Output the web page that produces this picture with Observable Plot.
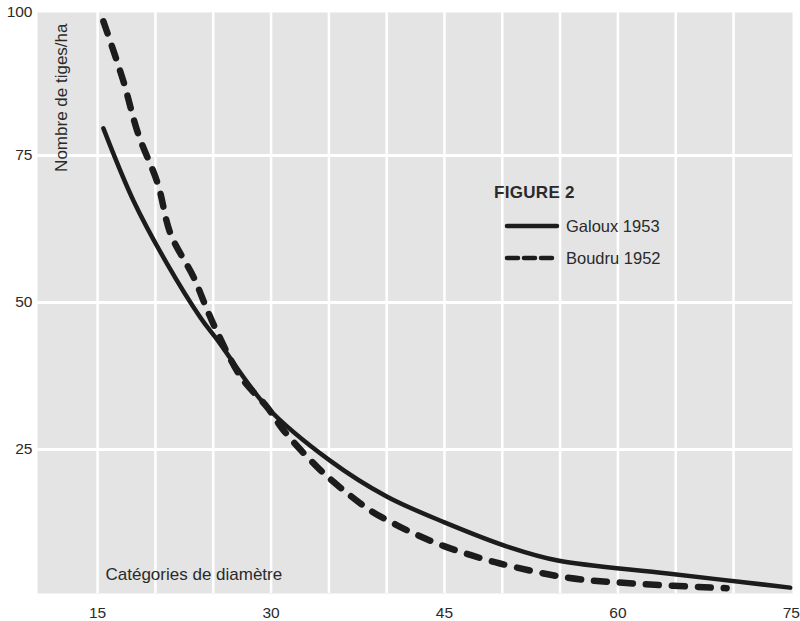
<!DOCTYPE html>
<html>
<head>
<meta charset="utf-8">
<script src="https://cdn.jsdelivr.net/npm/d3@7"></script>
<script src="https://cdn.jsdelivr.net/npm/@observablehq/plot@0.6"></script>
<style>
  html, body { margin: 0; padding: 0; background: #fff; }
  #wrap { position: relative; width: 800px; height: 621px; font-family: "Liberation Sans", Arial, sans-serif; color: #2a2a2a; }
  #legend { position: absolute; left: 494px; top: 182px; font-size: 16.5px; }
  #legend .title { font-weight: bold; font-size: 17px; letter-spacing: 0.3px; height: 22px; line-height: 22px; margin-bottom: 6px; }
  #legend .row { display: flex; align-items: center; height: 32px; }
  #legend svg { margin-left: 10px; margin-right: 6px; }
</style>
</head>
<body>
<div id="wrap"></div>
<script>
// Diameter categories (x) and stems per ha (y)
const galouxX = [15.5, 18.1, 21.0, 23.9, 25.4, 29.7, 35.1, 40.0, 45.0, 50.7, 54.8, 64.3, 74.9];
const galouxY = [79.6, 67.3, 56.6, 47.4, 43.5, 32.1, 23.1, 17.0, 12.6, 8.3, 6.1, 3.9, 1.5];
const boudruX = [15.5, 17.2, 18.5, 20.2, 21.3, 23.3, 24.5, 25.4, 27.4, 29.7, 31.1, 34.0, 36.0, 38.6, 40.9, 42.7, 44.9, 47.0, 49.8, 55.6, 61.3, 69.4];
const boudruY = [97.8, 87.8, 78.7, 70.2, 61.7, 54.3, 48.6, 44.7, 37.3, 32.1, 28.2, 22.0, 18.5, 14.6, 12.1, 10.4, 8.6, 7.2, 5.6, 3.2, 2.2, 1.4];
const xTicks = [15, 30, 45, 60, 75];
const yTicks = [25, 50, 75, 100];
const xGrid = [15, 20, 25, 30, 35, 40, 45, 50, 55, 60, 65, 70];
const yGrid = [25, 50, 75];
const seriesNames = ["Galoux 1953", "Boudru 1952"];

const galoux = galouxX.map((x, i) => ({x, y: galouxY[i]}));
const boudru = boudruX.map((x, i) => ({x, y: boudruY[i]}));

const ink = "#1c1c1c";
const font = "Liberation Sans, Arial, sans-serif";

const chart = Plot.plot({
  width: 800,
  height: 621,
  marginLeft: 37,
  marginRight: 8,
  marginTop: 12,
  marginBottom: 28,
  style: {fontFamily: font, fontSize: "16px", color: "#2a2a2a", background: "transparent"},
  x: {domain: [9.8, 75.1]},
  y: {domain: [0.5, 99.3], clamp: true},
  marks: [
    Plot.frame({fill: "#e4e4e4", stroke: null}),
    Plot.gridX(xGrid, {stroke: "#fff", strokeOpacity: 1, strokeWidth: 2.5}),
    Plot.gridY(yGrid, {stroke: "#fff", strokeOpacity: 1, strokeWidth: 3}),
    Plot.axisX(xTicks, {tickSize: 0, tickPadding: 13, label: null, fontSize: 15.5}),
    Plot.axisY(yTicks, {tickSize: 0, tickPadding: 5, label: null, fontSize: 15.5}),
    Plot.line(galoux, {x: "x", y: "y", curve: "catmull-rom", stroke: ink, strokeWidth: 4.5, strokeLinecap: "round"}),
    Plot.line(boudru, {x: "x", y: "y", curve: "catmull-rom", stroke: ink, strokeWidth: 6.5, strokeLinecap: "round", strokeDasharray: "13,13"}),
    Plot.text(["Nombre de tiges/ha"], {frameAnchor: "top-left", dx: 17, dy: 11, rotate: -90, textAnchor: "end", fontSize: 17, fill: "#2a2a2a"}),
    Plot.text(["Catégories de diamètre"], {frameAnchor: "bottom-left", dx: 68, dy: -14, textAnchor: "start", fontSize: 17, fill: "#2a2a2a"})
  ]
});

const wrap = document.getElementById("wrap");
wrap.appendChild(chart);

const legend = document.createElement("div");
legend.id = "legend";
legend.innerHTML = `<div class="title">FIGURE 2</div>
<div class="row"><svg width="56" height="8"><line x1="3" y1="4" x2="53" y2="4" stroke="${ink}" stroke-width="4.5" stroke-linecap="round"/></svg><span>${seriesNames[0]}</span></div>
<div class="row"><svg width="56" height="8"><line x1="3" y1="4" x2="53" y2="4" stroke="${ink}" stroke-width="4.5" stroke-linecap="round" stroke-dasharray="11,6"/></svg><span>${seriesNames[1]}</span></div>`;
wrap.appendChild(legend);
</script>
</body>
</html>
